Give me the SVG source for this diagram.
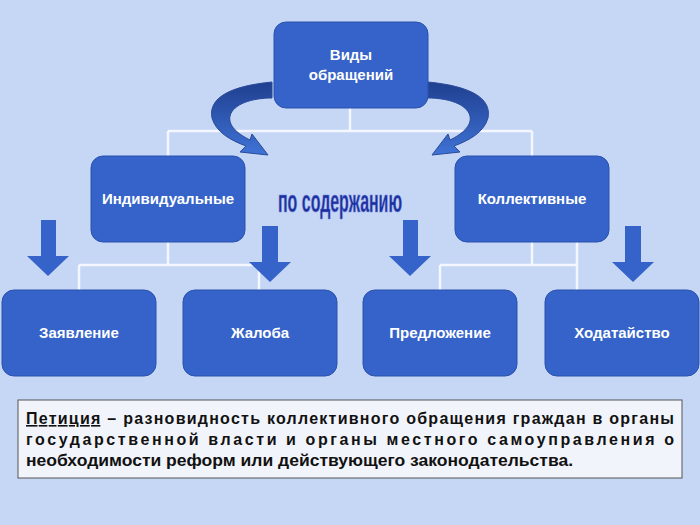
<svg xmlns="http://www.w3.org/2000/svg" width="700" height="525" viewBox="0 0 700 525">
<style>
.box{fill:#3563c9;stroke:#2a52ad;stroke-width:1}
.t{font-family:"Liberation Sans",Arial,sans-serif;font-weight:bold;font-size:15px;fill:#fff;text-anchor:middle}
.ln{stroke:#f4f7ff;stroke-width:2.5;fill:none}
.arr{fill:#3563c9}
.body{font-family:"Liberation Sans",Arial,sans-serif;font-weight:bold;font-size:16px;fill:#111}
</style>
<defs>
<linearGradient id="cg" x1="0" y1="0" x2="0" y2="1"><stop offset="0" stop-color="#1f3f8f"/><stop offset="1" stop-color="#3f73d6"/></linearGradient>
</defs>
<rect width="700" height="525" fill="#c6d6f5"/>
<g id="connectors">
<path class="ln" d="M350 108V131M168 131H532M168 131V156M532 131V156"/>
<path class="ln" d="M168 242V265M79 265H259M79 265V290M259 265V290"/>
<path class="ln" d="M532 242V265M440 265H577M440 265V290M577 242V290"/>
</g>
<g id="down-arrows">
<path class="arr" d="M41 220h15v36h13l-21 20-21-20h14z"/>
<path class="arr" d="M262 226h16v36h13l-21 20-21-20h13z"/>
<path class="arr" d="M403 220h15v36h13l-21 20-21-20h14z"/>
<path class="arr" d="M625 226h16v36h13l-21 20-21-20h13z"/>
</g>
<g id="curved-arrows">
<path fill="url(#cg)" stroke="#2a4a9a" stroke-width="1" d="M272 82C230 86 208 98 212 118C216 132 230 140 246 146L240 152L268 155L252 134L250 140C238 134 228 126 230 116C233 104 252 98 272 98Z"/>
<path fill="url(#cg)" stroke="#2a4a9a" stroke-width="1" d="M428 82C470 86 492 98 488 118C484 132 470 140 454 146L460 152L432 155L448 134L450 140C462 134 472 126 470 116C467 104 448 98 428 98Z"/>
</g>
<g id="root"><rect class="box" x="274" y="22" width="154" height="86" rx="12"/><text class="t" x="351" y="60">Виды</text><text class="t" x="351" y="80">обращений</text></g>
<g id="individual"><rect class="box" x="91" y="156" width="154" height="86" rx="12"/><text class="t" x="168" y="204">Индивидуальные</text></g>
<g id="collective"><rect class="box" x="455" y="156" width="154" height="86" rx="12"/><text class="t" x="532" y="204">Коллективные</text></g>
<g id="n1"><rect class="box" x="2" y="290" width="154" height="86" rx="12"/><text class="t" x="79" y="338">Заявление</text></g>
<g id="n2"><rect class="box" x="183" y="290" width="154" height="86" rx="12"/><text class="t" x="260" y="338">Жалоба</text></g>
<g id="n3"><rect class="box" x="363" y="290" width="154" height="86" rx="12"/><text class="t" x="440" y="338">Предложение</text></g>
<g id="n4"><rect class="box" x="545" y="290" width="154" height="86" rx="12"/><text class="t" x="622" y="338">Ходатайство</text></g>
<text x="340" y="212" font-family="'Liberation Sans Narrow','Liberation Sans',Arial,sans-serif" font-weight="bold" font-size="31" fill="#1c2f9e" stroke="#6f86d8" stroke-width="0.6" text-anchor="middle" textLength="124" lengthAdjust="spacingAndGlyphs">по содержанию</text>
<g id="note">
<rect x="18" y="400" width="664" height="78" fill="#f1f4fb" stroke="#555" stroke-width="1"/>
<text class="body" x="26" y="424" textLength="648" lengthAdjust="spacing"><tspan text-decoration="underline">Петиция</tspan> – разновидность коллективного обращения граждан в органы</text>
<text class="body" x="26" y="445" textLength="648" lengthAdjust="spacing">государственной  власти и органы местного самоуправления о</text>
<text class="body" x="26" y="466" textLength="547" lengthAdjust="spacingAndGlyphs">необходимости реформ или действующего законодательства.</text>
</g>
</svg>
